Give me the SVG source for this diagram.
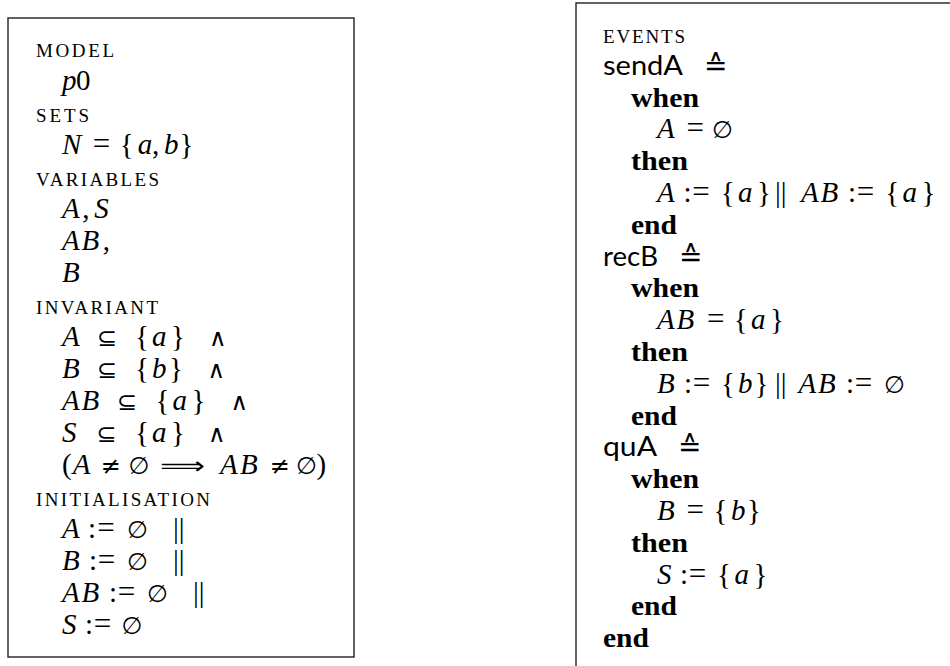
<svg xmlns="http://www.w3.org/2000/svg" width="950" height="666" viewBox="0 0 950 666">
<style>
.frame{fill:none;stroke:#222;stroke-width:1.4}
.sc{font-family:"Liberation Serif",serif;font-size:19px}
.mi{font-family:"Liberation Serif",serif;font-size:29px;font-style:italic}
.rm{font-family:"Liberation Serif",serif;font-size:29px}
.eq{font-family:"Liberation Serif",serif;font-size:31px}
.sy{font-family:"DejaVu Sans",sans-serif;font-size:24px}
.df{font-family:"DejaVu Sans",sans-serif;font-size:28px}
.bf{font-family:"Liberation Serif",serif;font-size:28px;font-weight:bold}
.ev{font-family:Lato,"Open Sans",sans-serif;font-size:27px}
text{fill:#000}
</style>
<rect width="950" height="666" fill="#fff"/>
<g id="model">
<rect class="frame" x="8" y="18" width="346" height="639"/>
<text class="sc" x="36" y="57" textLength="78" lengthAdjust="spacing">MODEL</text>
<text y="90"><tspan class="mi" x="62">p</tspan><tspan class="rm" x="76">0</tspan></text>
<text class="sc" x="36" y="122" textLength="53" lengthAdjust="spacing">SETS</text>
<text y="154"><tspan class="mi" x="62">N</tspan><tspan class="eq" x="92.7">=</tspan><tspan class="rm" x="119.7">{</tspan><tspan class="mi" x="137.7">a</tspan><tspan class="rm" x="152">,</tspan><tspan class="mi" x="164">b</tspan><tspan class="rm" x="179.5">}</tspan></text>
<text class="sc" x="36" y="186" textLength="123" lengthAdjust="spacing">VARIABLES</text>
<text y="218"><tspan class="mi" x="62">A</tspan><tspan class="rm" x="82.25">,</tspan><tspan class="mi" x="94.25">S</tspan></text>
<text y="250"><tspan class="mi" x="62">A</tspan><tspan class="mi" x="81.5">B</tspan><tspan class="rm" x="102.75">,</tspan></text>
<text y="282"><tspan class="mi" x="62">B</tspan></text>
<text class="sc" x="36" y="314" textLength="122" lengthAdjust="spacing">INVARIANT</text>
<text y="346"><tspan class="mi" x="62">A</tspan><tspan class="sy" x="97">⊆</tspan><tspan class="rm" x="135">{</tspan><tspan class="mi" x="152">a</tspan><tspan class="rm" x="171">}</tspan><tspan class="sy" x="209">∧</tspan></text>
<text y="378"><tspan class="mi" x="62">B</tspan><tspan class="sy" x="97">⊆</tspan><tspan class="rm" x="135">{</tspan><tspan class="mi" x="152">b</tspan><tspan class="rm" x="169">}</tspan><tspan class="sy" x="207.5">∧</tspan></text>
<text y="410"><tspan class="mi" x="62">A</tspan><tspan class="mi" x="81.5">B</tspan><tspan class="sy" x="117">⊆</tspan><tspan class="rm" x="155.5">{</tspan><tspan class="mi" x="172.5">a</tspan><tspan class="rm" x="191.5">}</tspan><tspan class="sy" x="230.5">∧</tspan></text>
<text y="442"><tspan class="mi" x="62">S</tspan><tspan class="sy" x="96.5">⊆</tspan><tspan class="rm" x="135">{</tspan><tspan class="mi" x="152">a</tspan><tspan class="rm" x="171">}</tspan><tspan class="sy" x="208">∧</tspan></text>
<text y="474"><tspan class="rm" x="62">(</tspan><tspan class="mi" x="72.8">A</tspan><tspan class="sy" x="100.5">≠</tspan><tspan class="sy" x="128.5">∅</tspan><tspan class="mi" x="220">A</tspan><tspan class="mi" x="240">B</tspan><tspan class="sy" x="269.5">≠</tspan><tspan class="sy" x="296">∅</tspan><tspan class="rm" x="316.5">)</tspan></text>
<text class="sy" x="160" y="474" textLength="45" lengthAdjust="spacingAndGlyphs">⟹</text>
<text class="sc" x="36" y="506" textLength="174" lengthAdjust="spacing">INITIALISATION</text>
<text y="538"><tspan class="mi" x="62">A</tspan><tspan class="rm" x="88">:</tspan><tspan class="eq" x="97.3">=</tspan><tspan class="sy" x="127">∅</tspan><tspan class="rm" x="173">||</tspan></text>
<text y="570"><tspan class="mi" x="62">B</tspan><tspan class="rm" x="89">:</tspan><tspan class="eq" x="97.8">=</tspan><tspan class="sy" x="127">∅</tspan><tspan class="rm" x="173">||</tspan></text>
<text y="602"><tspan class="mi" x="62">A</tspan><tspan class="mi" x="81.5">B</tspan><tspan class="rm" x="109">:</tspan><tspan class="eq" x="117.8">=</tspan><tspan class="sy" x="147">∅</tspan><tspan class="rm" x="193">||</tspan></text>
<text y="634"><tspan class="mi" x="62">S</tspan><tspan class="rm" x="85">:</tspan><tspan class="eq" x="93.8">=</tspan><tspan class="sy" x="121.5">∅</tspan></text>
</g>
<g id="events">
<rect class="frame" x="576" y="3" width="420" height="700"/>
<text class="sc" x="603" y="43" textLength="82" lengthAdjust="spacing">EVENTS</text>
<text class="ev" x="603" y="74.8" textLength="80" lengthAdjust="spacingAndGlyphs">sendA</text>
<text class="df" x="704" y="74.8">≙</text>
<text class="bf" x="631" y="106.6" textLength="68" lengthAdjust="spacingAndGlyphs">when</text>
<text y="138.4"><tspan class="mi" x="657">A</tspan><tspan class="eq" x="686.5">=</tspan><tspan class="sy" x="712">∅</tspan></text>
<text class="bf" x="631" y="170.2" textLength="57" lengthAdjust="spacingAndGlyphs">then</text>
<text y="202"><tspan class="mi" x="657">A</tspan><tspan class="rm" x="683.5">:</tspan><tspan class="eq" x="692.3">=</tspan><tspan class="rm" x="720.75">{</tspan><tspan class="mi" x="738">a</tspan><tspan class="rm" x="757">}</tspan><tspan class="rm" x="775">||</tspan><tspan class="mi" x="801">A</tspan><tspan class="mi" x="820.5">B</tspan><tspan class="rm" x="848">:</tspan><tspan class="eq" x="856.8">=</tspan><tspan class="rm" x="885.25">{</tspan><tspan class="mi" x="902.5">a</tspan><tspan class="rm" x="921.5">}</tspan></text>
<text class="bf" x="631" y="233.8" textLength="46" lengthAdjust="spacingAndGlyphs">end</text>
<text class="ev" x="603" y="265.6" textLength="55" lengthAdjust="spacingAndGlyphs">recB</text>
<text class="df" x="679" y="265.6">≙</text>
<text class="bf" x="631" y="297.4" textLength="68" lengthAdjust="spacingAndGlyphs">when</text>
<text y="329.2"><tspan class="mi" x="657">A</tspan><tspan class="mi" x="676.5">B</tspan><tspan class="eq" x="707">=</tspan><tspan class="rm" x="733.75">{</tspan><tspan class="mi" x="751">a</tspan><tspan class="rm" x="770">}</tspan></text>
<text class="bf" x="631" y="361" textLength="57" lengthAdjust="spacingAndGlyphs">then</text>
<text y="392.8"><tspan class="mi" x="657">B</tspan><tspan class="rm" x="684">:</tspan><tspan class="eq" x="692.8">=</tspan><tspan class="rm" x="721">{</tspan><tspan class="mi" x="738">b</tspan><tspan class="rm" x="754.5">}</tspan><tspan class="rm" x="775">||</tspan><tspan class="mi" x="798.6">A</tspan><tspan class="mi" x="818.1">B</tspan><tspan class="rm" x="846">:</tspan><tspan class="eq" x="854.8">=</tspan><tspan class="sy" x="884">∅</tspan></text>
<text class="bf" x="631" y="424.6" textLength="46" lengthAdjust="spacingAndGlyphs">end</text>
<text class="ev" x="603" y="456.4" textLength="54" lengthAdjust="spacingAndGlyphs">quA</text>
<text class="df" x="678" y="456.4">≙</text>
<text class="bf" x="631" y="488.2" textLength="68" lengthAdjust="spacingAndGlyphs">when</text>
<text y="520"><tspan class="mi" x="657">B</tspan><tspan class="eq" x="686.5">=</tspan><tspan class="rm" x="713.5">{</tspan><tspan class="mi" x="731">b</tspan><tspan class="rm" x="747">}</tspan></text>
<text class="bf" x="631" y="551.8" textLength="57" lengthAdjust="spacingAndGlyphs">then</text>
<text y="583.6"><tspan class="mi" x="657">S</tspan><tspan class="rm" x="680">:</tspan><tspan class="eq" x="688.8">=</tspan><tspan class="rm" x="717.05">{</tspan><tspan class="mi" x="734.5">a</tspan><tspan class="rm" x="753.5">}</tspan></text>
<text class="bf" x="631" y="615.4" textLength="46" lengthAdjust="spacingAndGlyphs">end</text>
<text class="bf" x="603" y="647.2" textLength="46" lengthAdjust="spacingAndGlyphs">end</text>
</g>
</svg>
